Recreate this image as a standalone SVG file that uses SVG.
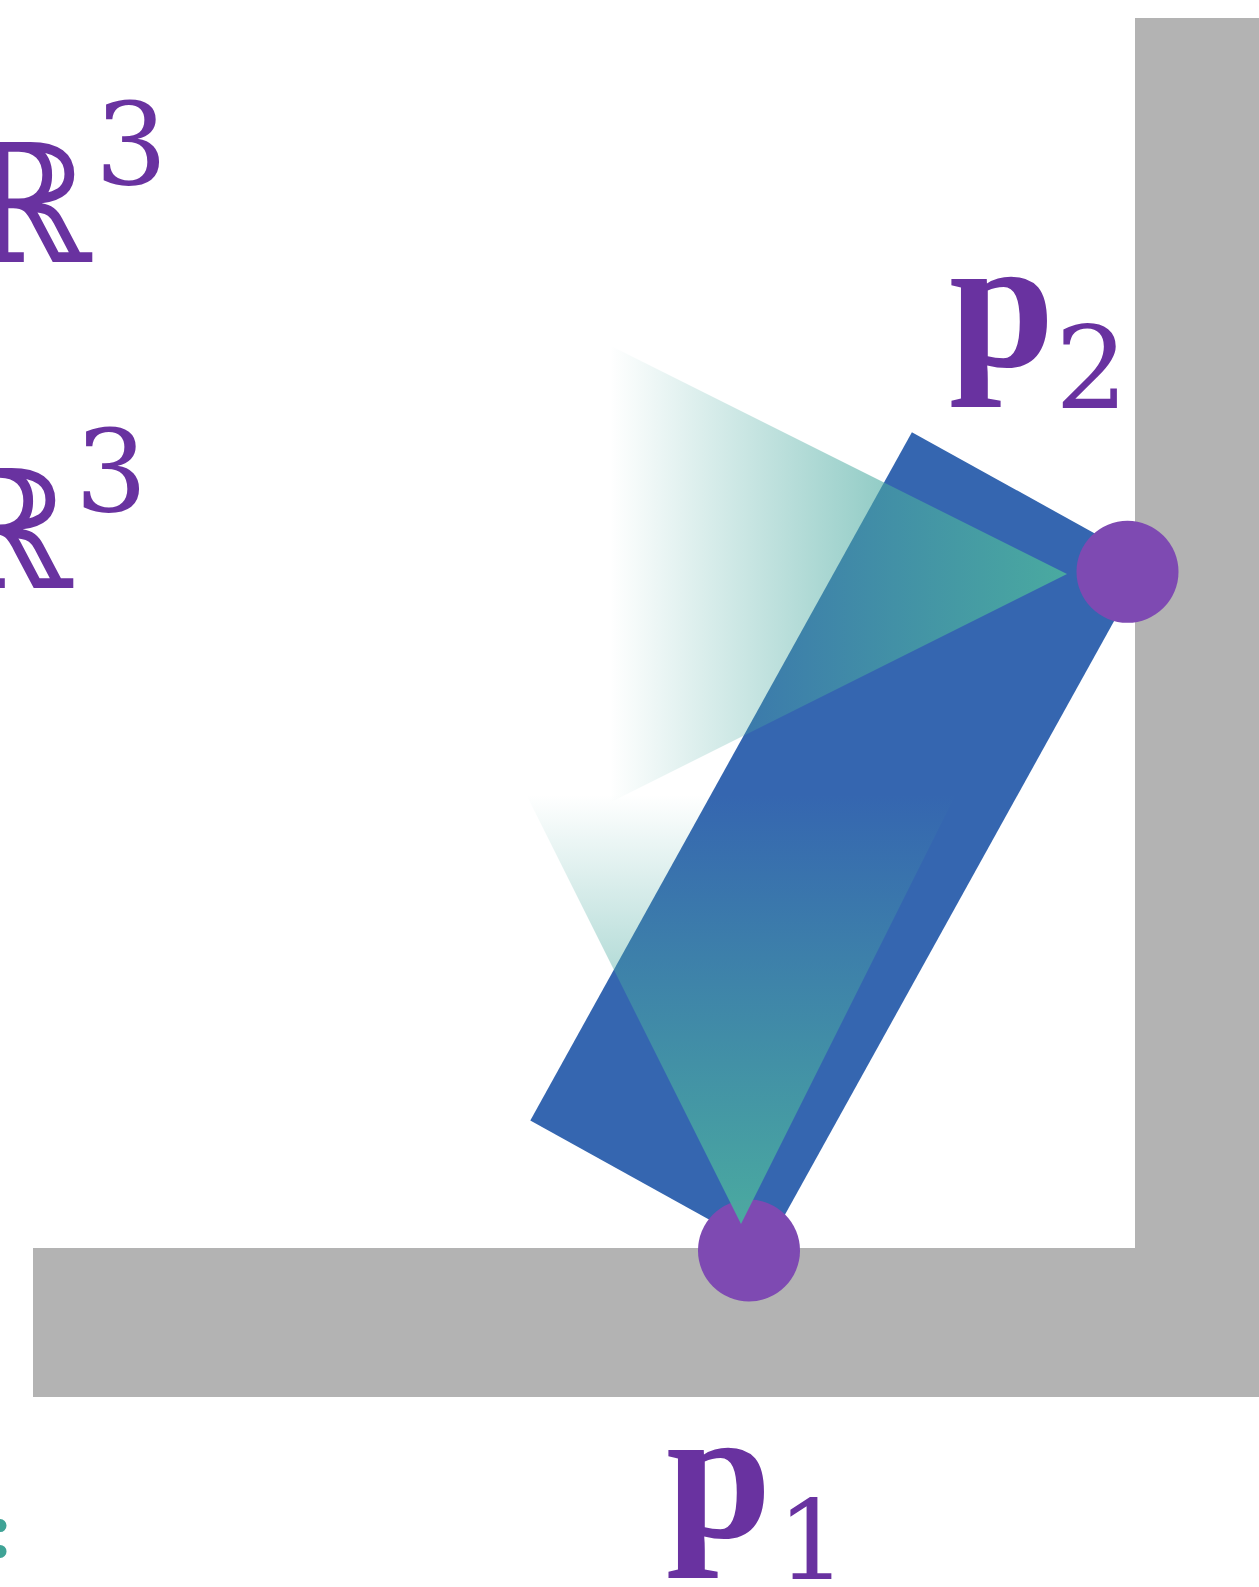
<svg xmlns="http://www.w3.org/2000/svg" width="1259" height="1587" viewBox="0 0 1259 1587">
  <style>
    .wall { fill: #b3b3b3; }
    .box { fill: #3566b0; }
    .pt { fill: #7e4ab2; }
    .lbl { fill: #6932a0; }
    .bb { font-family: "DejaVu Serif", serif; }
    .pbold { font-family: "Liberation Serif", "Times New Roman", serif; font-weight: bold; }
    .sub { font-family: "DejaVu Serif", serif; }
  </style>
  <defs>
    <linearGradient id="gH" gradientUnits="userSpaceOnUse" x1="610" y1="0" x2="1067" y2="0">
      <stop offset="0" stop-color="#4aaaa0" stop-opacity="0"/>
      <stop offset="1" stop-color="#4aaaa0" stop-opacity="1"/>
    </linearGradient>
    <linearGradient id="gV" gradientUnits="userSpaceOnUse" x1="0" y1="795" x2="0" y2="1224">
      <stop offset="0" stop-color="#4aaaa0" stop-opacity="0"/>
      <stop offset="1" stop-color="#4aaaa0" stop-opacity="1"/>
    </linearGradient>
  </defs>
  <rect width="1259" height="1587" fill="#ffffff"/>

  <g id="walls">
    <rect class="wall" x="1135" y="18" width="124" height="1379"/>
    <rect class="wall" x="33" y="1248" width="1226" height="149"/>
  </g>

  <g id="body">
    <polygon class="box" points="911.9,432.2 1146.7,562.2 765.1,1250.5 530.3,1120.4"/>
  </g>

  <g id="p2">
    <circle class="pt" cx="1127.5" cy="571.8" r="51"/>
  </g>
  <g id="p1">
    <circle class="pt" cx="749" cy="1250.5" r="51"/>
  </g>

  <g id="cone-p2">
    <polygon fill="url(#gH)" points="1067,574 500,290.5 500,857.5"/>
  </g>
  <g id="cone-p1">
    <polygon fill="url(#gV)" points="741,1224 519,780 963,780"/>
  </g>

  <g id="connectors"></g>

  <g id="label-R3-a" class="lbl">
    <text class="bb" x="91" y="262" font-size="165" text-anchor="end">ℝ</text>
    <text class="bb" x="95" y="184" font-size="114">3</text>
  </g>
  <g id="label-R3-b" class="lbl">
    <text class="bb" x="72" y="588" font-size="165" text-anchor="end">ℝ</text>
    <text class="bb" x="75" y="511" font-size="114">3</text>
  </g>

  <g id="label-p2" class="lbl">
    <text class="pbold" x="949" y="366" font-size="190">p</text>
    <text class="sub" x="1055" y="408" font-size="115">2</text>
  </g>
  <g id="label-p1" class="lbl">
    <text class="pbold" x="666" y="1537" font-size="190">p</text>
    <text class="sub" x="777" y="1579" font-size="110">1</text>
  </g>

  <g id="label-edge">
    <text x="-13" y="1557" font-size="80" fill="#3fa396" font-family="Liberation Serif, serif" font-weight="bold">:</text>
  </g>
</svg>
